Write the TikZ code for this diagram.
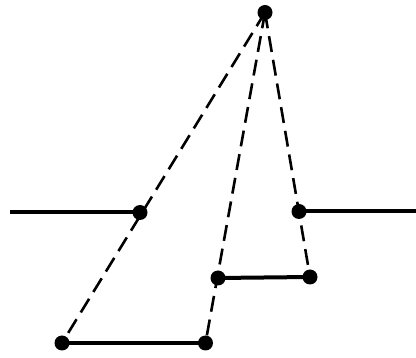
\documentclass[tikz,border=0pt]{standalone}
\begin{document}
\begin{tikzpicture}[x=1pt,y=-1pt,
  dot/.style={circle,fill=black,inner sep=0pt,minimum size=15pt},
  solidline/.style={line width=4pt},
  dashline/.style={line width=2.6pt,dash pattern=on 16pt off 8pt}]
\useasboundingbox (0,0) rectangle (416,358);
\node[dot] (A) at (265,12.5) {};
\node[dot] (L) at (140,212.5) {};
\node[dot] (R) at (299,211.5) {};
\node[dot] (ML) at (218,278) {};
\node[dot] (MR) at (310,277) {};
\node[dot] (BL) at (62,343) {};
\node[dot] (BR) at (205.5,343) {};
\coordinate (LE) at (10,212.5);
\coordinate (RE) at (416,211.5);
\draw[solidline] (LE) -- (L.center);
\draw[solidline] (R.center) -- (RE);
\draw[solidline] (ML.center) -- (MR.center);
\draw[solidline] (BL.center) -- (BR.center);
\draw[dashline] (A.center) -- (BL.center);
\draw[dashline] (A.center) -- (BR.center);
\draw[dashline] (A.center) -- (MR.center);
\end{tikzpicture}
\end{document}
